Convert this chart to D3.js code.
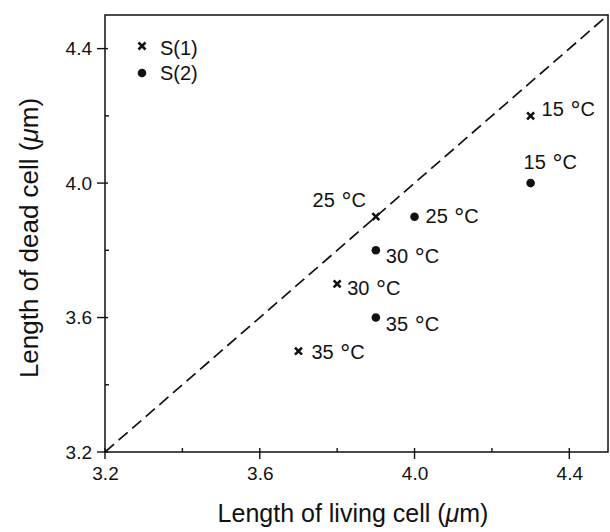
<!DOCTYPE html>
<html>
<head>
<meta charset="utf-8">
<script src="https://cdn.jsdelivr.net/npm/d3@7"></script>
<style>
  body { margin: 0; background: #fff; }
  svg { font-family: "Liberation Sans", Arial, sans-serif; }
</style>
</head>
<body>
<svg id="chart" width="610" height="532"></svg>
<script>
// S(1) – crosses, S(2) – dots
const s1Living = [4.3, 3.9, 3.8, 3.7]
const s1Dead   = [4.2, 3.9, 3.7, 3.5]
const s1Temps  = ["15", "25", "30", "35"]
const s2Living = [4.3, 4.0, 3.9, 3.9]
const s2Dead   = [4.0, 3.9, 3.8, 3.6]
const s2Temps  = ["15", "25", "30", "35"]
const majorTicks = [3.2, 3.6, 4.0, 4.4]
const minorTicks = [3.4, 3.8, 4.2]

// label placement per point: dx, baseline dy, anchor
const s1Pos = [[11, 0, "start"], [-10, -10, "end"], [10, 11, "start"], [13, 8, "start"]]
const s2Pos = [[-7, -14, "start"], [11, 6, "start"], [10, 13, "start"], [10, 13, "start"]]

const svg = d3.select("#chart")
const mLeft = 105, mRight = 608, mTop = 15, mBottom = 452

const x = d3.scaleLinear().domain([3.2, 4.5]).range([mLeft, mRight])
const y = d3.scaleLinear().domain([3.2, 4.5]).range([mBottom, mTop])

const g = svg.append("g")

// frame
g.append("rect")
  .attr("x", mLeft).attr("y", mTop)
  .attr("width", mRight - mLeft).attr("height", mBottom - mTop)
  .attr("fill", "none").attr("stroke", "#111").attr("stroke-width", 1.5)

// x axis
const xAxis = g.append("g").attr("transform", `translate(0,${mBottom})`)
xAxis.call(d3.axisBottom(x).tickValues(majorTicks).tickFormat(d3.format(".1f")).tickSize(0).tickPadding(15))
xAxis.select(".domain").remove()
xAxis.selectAll("text").attr("font-size", 19).attr("fill", "#111")
g.selectAll(".xmaj").data(majorTicks).join("line")
  .attr("x1", d => x(d)).attr("x2", d => x(d))
  .attr("y1", mBottom - 4).attr("y2", mBottom + 7)
  .attr("stroke", "#111").attr("stroke-width", 1.4)
g.selectAll(".xmin").data(minorTicks).join("line")
  .attr("x1", d => x(d)).attr("x2", d => x(d))
  .attr("y1", mBottom - 4).attr("y2", mBottom)
  .attr("stroke", "#111").attr("stroke-width", 1.4)

// y axis
const yAxis = g.append("g").attr("transform", `translate(${mLeft},0)`)
yAxis.call(d3.axisLeft(y).tickValues(majorTicks).tickFormat(d3.format(".1f")).tickSize(0).tickPadding(13))
yAxis.select(".domain").remove()
yAxis.selectAll("text").attr("font-size", 19).attr("fill", "#111")
g.selectAll(".ymaj").data(majorTicks).join("line")
  .attr("x1", mLeft - 8).attr("x2", mLeft + 3)
  .attr("y1", d => y(d)).attr("y2", d => y(d))
  .attr("stroke", "#111").attr("stroke-width", 1.4)
g.selectAll(".ymin").data(minorTicks).join("line")
  .attr("x1", mLeft).attr("x2", mLeft + 4)
  .attr("y1", d => y(d)).attr("y2", d => y(d))
  .attr("stroke", "#111").attr("stroke-width", 1.4)

// y = x dashed line
g.append("line")
  .attr("x1", x(3.2)).attr("y1", y(3.2))
  .attr("x2", x(4.5)).attr("y2", y(4.5))
  .attr("stroke", "#111").attr("stroke-width", 1.7)
  .attr("stroke-dasharray", "12,6")

const cross = (sel, cx, cy) => {
  sel.append("path")
    .attr("d", `M${cx - 3.5},${cy - 3.5}L${cx + 3.5},${cy + 3.5}M${cx - 3.5},${cy + 3.5}L${cx + 3.5},${cy - 3.5}`)
    .attr("stroke", "#111").attr("stroke-width", 2.6)
}

const tempLabel = (sel, lx, ly, anchor, t) => {
  const txt = sel.append("text")
    .attr("x", lx).attr("y", ly).attr("text-anchor", anchor)
    .attr("font-size", 20).attr("fill", "#111")
  txt.append("tspan").text(t + " ")
  txt.append("tspan").attr("font-size", 25).attr("dx", 1).attr("dy", 3).text("°")
  txt.append("tspan").attr("dy", -3).text("C")
}

// S(1)
s1Living.forEach((v, i) => {
  const cx = x(v), cy = y(s1Dead[i])
  cross(g, cx, cy)
  const p = s1Pos[i]
  tempLabel(g, cx + p[0], cy + p[1], p[2], s1Temps[i])
})

// S(2)
s2Living.forEach((v, i) => {
  const cx = x(v), cy = y(s2Dead[i])
  g.append("circle").attr("cx", cx).attr("cy", cy).attr("r", 4.3).attr("fill", "#111")
  const p = s2Pos[i]
  tempLabel(g, cx + p[0], cy + p[1], p[2], s2Temps[i])
})

// legend
cross(g, 142, 46)
g.append("text").attr("x", 160).attr("y", 55)
  .attr("font-size", 20).attr("fill", "#111").text("S(1)")
g.append("circle").attr("cx", 142).attr("cy", 73).attr("r", 4.3).attr("fill", "#111")
g.append("text").attr("x", 160).attr("y", 80)
  .attr("font-size", 20).attr("fill", "#111").text("S(2)")

// axis titles
const xt = svg.append("text").attr("x", 353).attr("y", 522)
  .attr("text-anchor", "middle").attr("font-size", 25).attr("fill", "#111")
xt.append("tspan").text("Length of living cell (")
xt.append("tspan").attr("font-style", "italic").text("μ")
xt.append("tspan").text("m)")

const yt = svg.append("text")
  .attr("transform", `translate(38,238) rotate(-90)`)
  .attr("text-anchor", "middle").attr("font-size", 26).attr("fill", "#111")
yt.append("tspan").text("Length of dead cell (")
yt.append("tspan").attr("font-style", "italic").text("μ")
yt.append("tspan").text("m)")
</script>
</body>
</html>
